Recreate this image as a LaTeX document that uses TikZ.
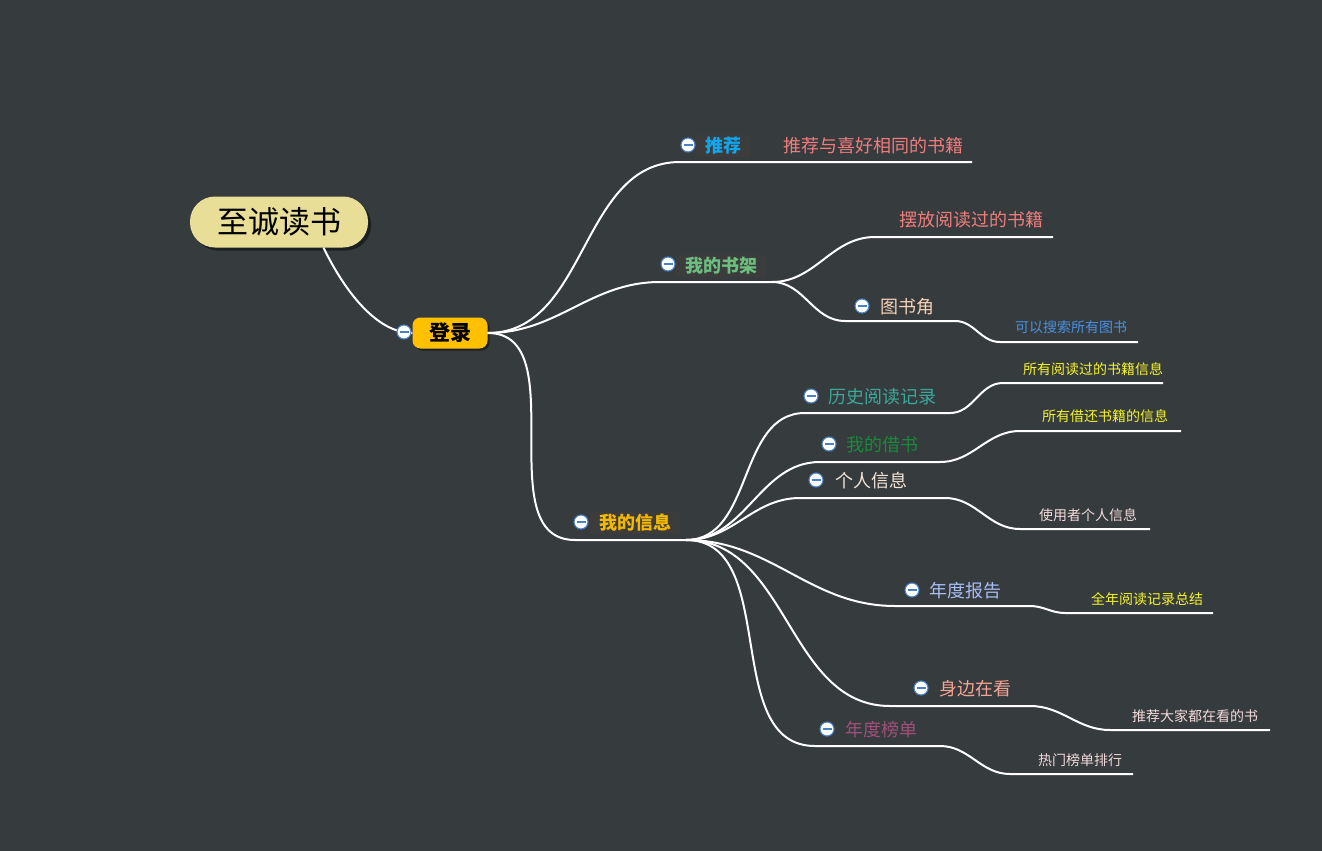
\documentclass[tikz,border=0pt]{standalone}
\usepackage{fontspec}
\usepackage{tikz}
\usetikzlibrary{shadows}
\newfontfamily\cjk{Noto Sans CJK SC}

\definecolor{bgcol}{HTML}{363B3E}
\definecolor{lblbox}{HTML}{3C3C3C}
\definecolor{rootfill}{HTML}{E8DE98}
\definecolor{loginfill}{HTML}{FFC000}
\definecolor{foldblue}{HTML}{4A80C8}
\definecolor{tjblue}{HTML}{12A6EE}
\definecolor{sjgreen}{HTML}{6CBF7F}
\definecolor{xxamber}{HTML}{F5B800}
\definecolor{salmon}{HTML}{F07C7C}
\definecolor{peach}{HTML}{F7D2B5}
\definecolor{searchblue}{HTML}{4A90E2}
\definecolor{teal}{HTML}{3BA89A}
\definecolor{darkgreen}{HTML}{1A8A3C}
\definecolor{cream}{HTML}{F3E6D8}
\definecolor{lavender}{HTML}{A8BDF5}
\definecolor{coral}{HTML}{F4A494}
\definecolor{mauve}{HTML}{A0507A}
\definecolor{notey}{HTML}{F4F42A}
\definecolor{notepink}{HTML}{F3DADA}

\begin{document}
\begin{tikzpicture}[x=1pt, y=-1pt, font=\cjk,
    link/.style={draw=white, line width=2pt},
    fold/.style={circle, draw=foldblue, fill=white, line width=1.1pt, minimum size=14pt, inner sep=0pt,
      path picture={\draw[foldblue, line width=1.1pt] ([xshift=-4.5pt]path picture bounding box.center) -- ([xshift=4.5pt]path picture bounding box.center);}},
    branch/.style={inner xsep=9pt, inner ysep=2pt, fill=lblbox, font=\cjk\bfseries\fontsize{18}{20}\selectfont},
    topic/.style={inner sep=0pt, font=\cjk\fontsize{18}{20}\selectfont},
    note/.style={inner sep=0pt, font=\cjk\fontsize{14}{16}\selectfont}]
    \fill[bgcol] (0,0) rectangle (1322,851);
    \useasboundingbox (0,0) rectangle (1322,851);

    % central topic and first branch
    \node[fill=rootfill, rounded corners=25pt, minimum width=178pt, minimum height=51pt,
      drop shadow={shadow xshift=3pt, shadow yshift=-3pt, fill=black, opacity=0.45},
      font=\cjk\fontsize{31}{34}\selectfont] (root) at (279,222) {至诚读书};
    \node[fill=loginfill, rounded corners=8pt, minimum width=75pt, minimum height=31pt,
      drop shadow={shadow xshift=2pt, shadow yshift=-2pt, fill=black, opacity=0.45},
      font=\cjk\bfseries\fontsize{21}{24}\selectfont] (login) at (450,333) {登录};

    % second level
    \node[branch, text=tjblue] (tuijian) at (723,146) {推荐};
    \node[branch, text=sjgreen] (shujia) at (721,266) {我的书架};
    \node[branch, text=xxamber] (xinxi) at (635,523) {我的信息};

    % third level
    \node[topic, text=salmon] (tuijian-sub) at (873,146) {推荐与喜好相同的书籍};
    \node[topic, text=salmon] (baifang) at (971,220) {摆放阅读过的书籍};
    \node[topic, text=peach] (tushujiao) at (907,307) {图书角};
    \node[topic, text=teal] (lishi) at (882,397) {历史阅读记录};
    \node[topic, text=darkgreen] (jieshu) at (882,445) {我的借书};
    \node[topic, text=cream] (geren) at (871,481) {个人信息};
    \node[topic, text=lavender] (baogao) at (965,591) {年度报告};
    \node[topic, text=coral] (shenbian) at (975,689) {身边在看};
    \node[topic, text=mauve] (bangdan) at (881,730) {年度榜单};

    % notes
    \node[note, text=searchblue] (sousuo) at (1071,327) {可以搜索所有图书};
    \node[note, text=notey] (lishi-sub) at (1093,369) {所有阅读过的书籍信息};
    \node[note, text=notey] (jieshu-sub) at (1105,416) {所有借还书籍的信息};
    \node[note, text=notepink] (geren-sub) at (1088,515) {使用者个人信息};
    \node[note, text=notey] (baogao-sub) at (1147,599) {全年阅读记录总结};
    \node[note, text=notepink] (shenbian-sub) at (1195,716) {推荐大家都在看的书};
    \node[note, text=notepink] (bangdan-sub) at (1080,760) {热门榜单排行};

    % underline ends
    \coordinate (tuijian-a) at (680,162);
    \coordinate (tuijian-b) at (972,162);
    \coordinate (shujia-a) at (660,282);
    \coordinate (shujia-b) at (772,282);
    \coordinate (baifang-a) at (875,237);
    \coordinate (baifang-b) at (1053,237);
    \coordinate (tushujiao-a) at (845,321);
    \coordinate (tushujiao-b) at (955,321);
    \coordinate (sousuo-a) at (1000,342);
    \coordinate (sousuo-b) at (1138,342);
    \coordinate (xinxi-a) at (575,540);
    \coordinate (xinxi-b) at (686,540);
    \coordinate (lishi-a) at (805,413);
    \coordinate (lishi-b) at (950,413);
    \coordinate (lishi-c) at (1003,383);
    \coordinate (lishi-d) at (1163,383);
    \coordinate (jieshu-a) at (820,462);
    \coordinate (jieshu-b) at (940,462);
    \coordinate (jieshu-c) at (1020,431);
    \coordinate (jieshu-d) at (1181,431);
    \coordinate (geren-a) at (800,498);
    \coordinate (geren-b) at (945,498);
    \coordinate (geren-c) at (1020,529);
    \coordinate (geren-d) at (1150,529);
    \coordinate (baogao-a) at (895,606);
    \coordinate (baogao-b) at (1030,606);
    \coordinate (baogao-c) at (1065,613);
    \coordinate (baogao-d) at (1213,613);
    \coordinate (shenbian-a) at (890,706);
    \coordinate (shenbian-b) at (1030,706);
    \coordinate (shenbian-c) at (1110,730);
    \coordinate (shenbian-d) at (1270,730);
    \coordinate (bangdan-a) at (815,746);
    \coordinate (bangdan-b) at (940,746);
    \coordinate (bangdan-c) at (1010,774);
    \coordinate (bangdan-d) at (1133,774);

    % connectors
    \draw[link] (root.-30) .. controls +(22,45) and +(-35,0) .. (login.west);
    \draw[link] (login.east) to[out=0, in=180] (tuijian-a) -- (tuijian-b);
    \draw[link] (login.east) to[out=0, in=180] (shujia-a) -- (shujia-b);
    \draw[link] (login.east) to[out=0, in=180] (xinxi-a) -- (xinxi-b);
    \draw[link] (shujia-b) to[out=0, in=180] (baifang-a) -- (baifang-b);
    \draw[link] (shujia-b) to[out=0, in=180] (tushujiao-a) -- (tushujiao-b)
      to[out=0, in=180] (sousuo-a) -- (sousuo-b);
    \draw[link] (xinxi-b) to[out=0, in=180] (lishi-a) -- (lishi-b)
      to[out=0, in=180] (lishi-c) -- (lishi-d);
    \draw[link] (xinxi-b) to[out=0, in=180] (jieshu-a) -- (jieshu-b)
      to[out=0, in=180] (jieshu-c) -- (jieshu-d);
    \draw[link] (xinxi-b) to[out=0, in=180] (geren-a) -- (geren-b)
      to[out=0, in=180] (geren-c) -- (geren-d);
    \draw[link] (xinxi-b) to[out=0, in=180] (baogao-a) -- (baogao-b)
      to[out=0, in=180] (baogao-c) -- (baogao-d);
    \draw[link] (xinxi-b) to[out=0, in=180] (shenbian-a) -- (shenbian-b)
      to[out=0, in=180] (shenbian-c) -- (shenbian-d);
    \draw[link] (xinxi-b) to[out=0, in=180] (bangdan-a) -- (bangdan-b)
      to[out=0, in=180] (bangdan-c) -- (bangdan-d);

    % fold markers
    \node[fold] (fold-login) at (404,332) {};
    \node[fold] (fold-tuijian) at (688,145) {};
    \node[fold] (fold-shujia) at (668,264) {};
    \node[fold] (fold-xinxi) at (581,522) {};
    \node[fold] (fold-tushujiao) at (862,306) {};
    \node[fold] (fold-lishi) at (811,396) {};
    \node[fold] (fold-jieshu) at (829,444) {};
    \node[fold] (fold-geren) at (816,480) {};
    \node[fold] (fold-baogao) at (912,590) {};
    \node[fold] (fold-shenbian) at (921,688) {};
    \node[fold] (fold-bangdan) at (827,729) {};
\end{tikzpicture}
\end{document}
